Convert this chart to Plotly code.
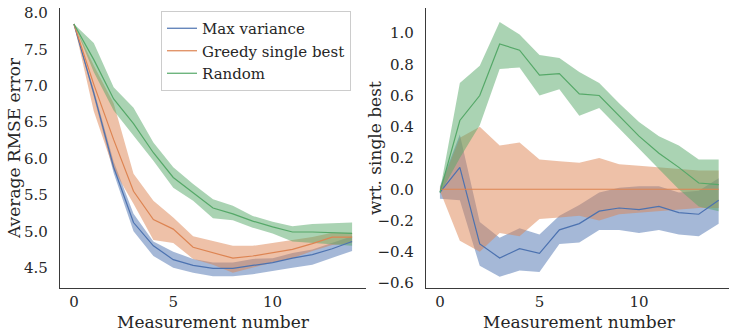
import plotly.graph_objects as go

# Measurement index shared by both panels
steps = list(range(15))

# --- Average RMSE error (left panel): mean and band limits per strategy ---
mv_mean = [7.85, 6.90, 5.88, 5.12, 4.80, 4.61, 4.53, 4.49, 4.49, 4.53, 4.57, 4.63, 4.68, 4.76, 4.86]
mv_lo = [7.85, 6.85, 5.80, 5.00, 4.66, 4.50, 4.43, 4.38, 4.38, 4.41, 4.45, 4.50, 4.54, 4.63, 4.73]
mv_hi = [7.85, 6.95, 5.96, 5.24, 4.86, 4.72, 4.62, 4.57, 4.57, 4.62, 4.63, 4.70, 4.75, 4.84, 4.93]

gsb_mean = [7.85, 7.02, 6.26, 5.55, 5.16, 5.03, 4.78, 4.70, 4.63, 4.66, 4.70, 4.75, 4.83, 4.92, 4.92]
gsb_lo = [7.85, 6.65, 5.85, 5.38, 4.88, 4.84, 4.62, 4.54, 4.43, 4.50, 4.57, 4.63, 4.73, 4.81, 4.84]
gsb_hi = [7.85, 7.28, 6.76, 5.79, 5.42, 5.19, 4.93, 4.86, 4.80, 4.80, 4.84, 4.88, 4.92, 4.98, 4.98]

rnd_mean = [7.85, 7.36, 6.82, 6.48, 6.08, 5.74, 5.53, 5.32, 5.24, 5.14, 5.06, 4.99, 4.99, 4.98, 4.97]
rnd_lo = [7.85, 7.19, 6.66, 6.32, 5.97, 5.60, 5.42, 5.18, 5.15, 5.05, 4.97, 4.86, 4.84, 4.82, 4.80]
rnd_hi = [7.85, 7.59, 6.98, 6.70, 6.22, 5.88, 5.65, 5.44, 5.35, 5.21, 5.13, 5.07, 5.10, 5.11, 5.12]

# --- Difference w.r.t. greedy single best (right panel) ---
mv_rel_mean = [-0.02, 0.14, -0.35, -0.44, -0.38, -0.41, -0.26, -0.22, -0.14, -0.12, -0.13, -0.11, -0.15, -0.16, -0.07]
mv_rel_lo = [-0.06, -0.07, -0.49, -0.56, -0.52, -0.53, -0.35, -0.34, -0.26, -0.26, -0.28, -0.26, -0.29, -0.30, -0.22]
mv_rel_hi = [0.02, 0.35, -0.21, -0.31, -0.25, -0.29, -0.17, -0.10, -0.02, 0.01, 0.02, 0.02, -0.02, -0.01, 0.07]

gsb_rel_mean = [0.0] * 15
gsb_rel_lo = [-0.01, -0.33, -0.40, -0.28, -0.30, -0.19, -0.18, -0.17, -0.20, -0.16, -0.15, -0.14, -0.13, -0.12, -0.12]
gsb_rel_hi = [0.01, 0.33, 0.40, 0.28, 0.30, 0.19, 0.18, 0.17, 0.20, 0.16, 0.15, 0.14, 0.13, 0.12, 0.12]

rnd_rel_mean = [-0.02, 0.44, 0.60, 0.93, 0.89, 0.73, 0.74, 0.61, 0.60, 0.47, 0.34, 0.23, 0.14, 0.04, 0.03]
rnd_rel_lo = [-0.03, 0.20, 0.41, 0.77, 0.78, 0.60, 0.64, 0.47, 0.52, 0.39, 0.26, 0.13, 0.00, -0.11, -0.14]
rnd_rel_hi = [-0.01, 0.68, 0.79, 1.07, 0.99, 0.86, 0.84, 0.75, 0.68, 0.55, 0.43, 0.34, 0.28, 0.19, 0.19]

names = ["Max variance", "Greedy single best", "Random"]
colors = ["#4C72B0", "#DD8452", "#55A868"]
bands = ["rgba(76,114,176,0.5)", "rgba(221,132,82,0.5)", "rgba(85,168,104,0.5)"]

left = [(mv_mean, mv_lo, mv_hi), (gsb_mean, gsb_lo, gsb_hi), (rnd_mean, rnd_lo, rnd_hi)]
right = [(mv_rel_mean, mv_rel_lo, mv_rel_hi), (gsb_rel_mean, gsb_rel_lo, gsb_rel_hi),
         (rnd_rel_mean, rnd_rel_lo, rnd_rel_hi)]

FONT = "'DejaVu Serif', 'Liberation Serif', serif"
INK = "#262626"

fig = go.Figure()

for panel, (xa, ya) in ((left, ("x", "y")), (right, ("x2", "y2"))):
    # confidence bands first so every line sits above all fills
    for (mean, lo, hi), band in zip(panel, bands):
        fig.add_trace(go.Scatter(
            x=steps + steps[::-1], y=hi + lo[::-1], fill="toself", fillcolor=band,
            line=dict(width=0), mode="lines", hoverinfo="skip", showlegend=False,
            xaxis=xa, yaxis=ya))
    for (mean, lo, hi), name, color in zip(panel, names, colors):
        fig.add_trace(go.Scatter(
            x=steps, y=mean, mode="lines", name=name, line=dict(color=color, width=1.2),
            showlegend=(xa == "x"), xaxis=xa, yaxis=ya))

W, H = 729, 331
top_px, bot_px = 8, 288
ydom = [1 - bot_px / H, 1 - top_px / H]
ymid = 1 - (top_px + bot_px) / 2 / H

axis_common = dict(
    showgrid=False, zeroline=False, showline=True, linecolor="#3a3a3a", linewidth=1.2,
    ticks="", ticklen=0, tickfont=dict(family=FONT, size=15, color=INK),
)

fig.update_layout(
    width=W, height=H, template="none",
    paper_bgcolor="white", plot_bgcolor="white",
    margin=dict(l=0, r=0, t=0, b=0),
    font=dict(family=FONT, color=INK),
    xaxis=dict(domain=[60 / W, 366 / W], range=[-0.7, 14.7], tickvals=[0, 5, 10],
               ticklabelstandoff=0, anchor="y", **axis_common),
    yaxis=dict(domain=ydom, range=[4.22, 8.07], tickvals=[4.5, 5.0, 5.5, 6.0, 6.5, 7.0, 7.5, 8.0],
               tickformat=".1f", ticklabelstandoff=8, anchor="x", **axis_common),
    xaxis2=dict(domain=[426 / W, 1.0], range=[-0.7, 14.52], tickvals=[0, 5, 10],
                ticklabelstandoff=0, anchor="y2", **axis_common),
    yaxis2=dict(domain=ydom, range=[-0.632, 1.16],
                tickvals=[-0.6, -0.4, -0.2, 0.0, 0.2, 0.4, 0.6, 0.8, 1.0],
                tickformat=".1f", ticklabelstandoff=8, anchor="x2", **axis_common),
    legend=dict(x=161 / W, y=1 - 11 / H, xanchor="left", yanchor="top",
                bgcolor="rgba(255,255,255,0.8)", bordercolor="#cccccc", borderwidth=1,
                font=dict(family=FONT, size=15, color=INK)),
    showlegend=True,
)

# axis titles placed as annotations in paper coordinates
title_font = dict(family=FONT, size=17, color=INK)
for text, xpx in (("Average RMSE error", 14), ("wrt. single best", 375)):
    fig.add_annotation(text=text, xref="paper", yref="paper", x=xpx / W, y=ymid,
                       xanchor="center", yanchor="middle", textangle=-90, showarrow=False,
                       font=title_font)
for xpx in ((60 + 366) / 2, 579):
    fig.add_annotation(text="Measurement number", xref="paper", yref="paper",
                       x=xpx / W, y=1 - 322 / H, xanchor="center", yanchor="middle",
                       showarrow=False, font=title_font)

fig.write_html("out.html")
